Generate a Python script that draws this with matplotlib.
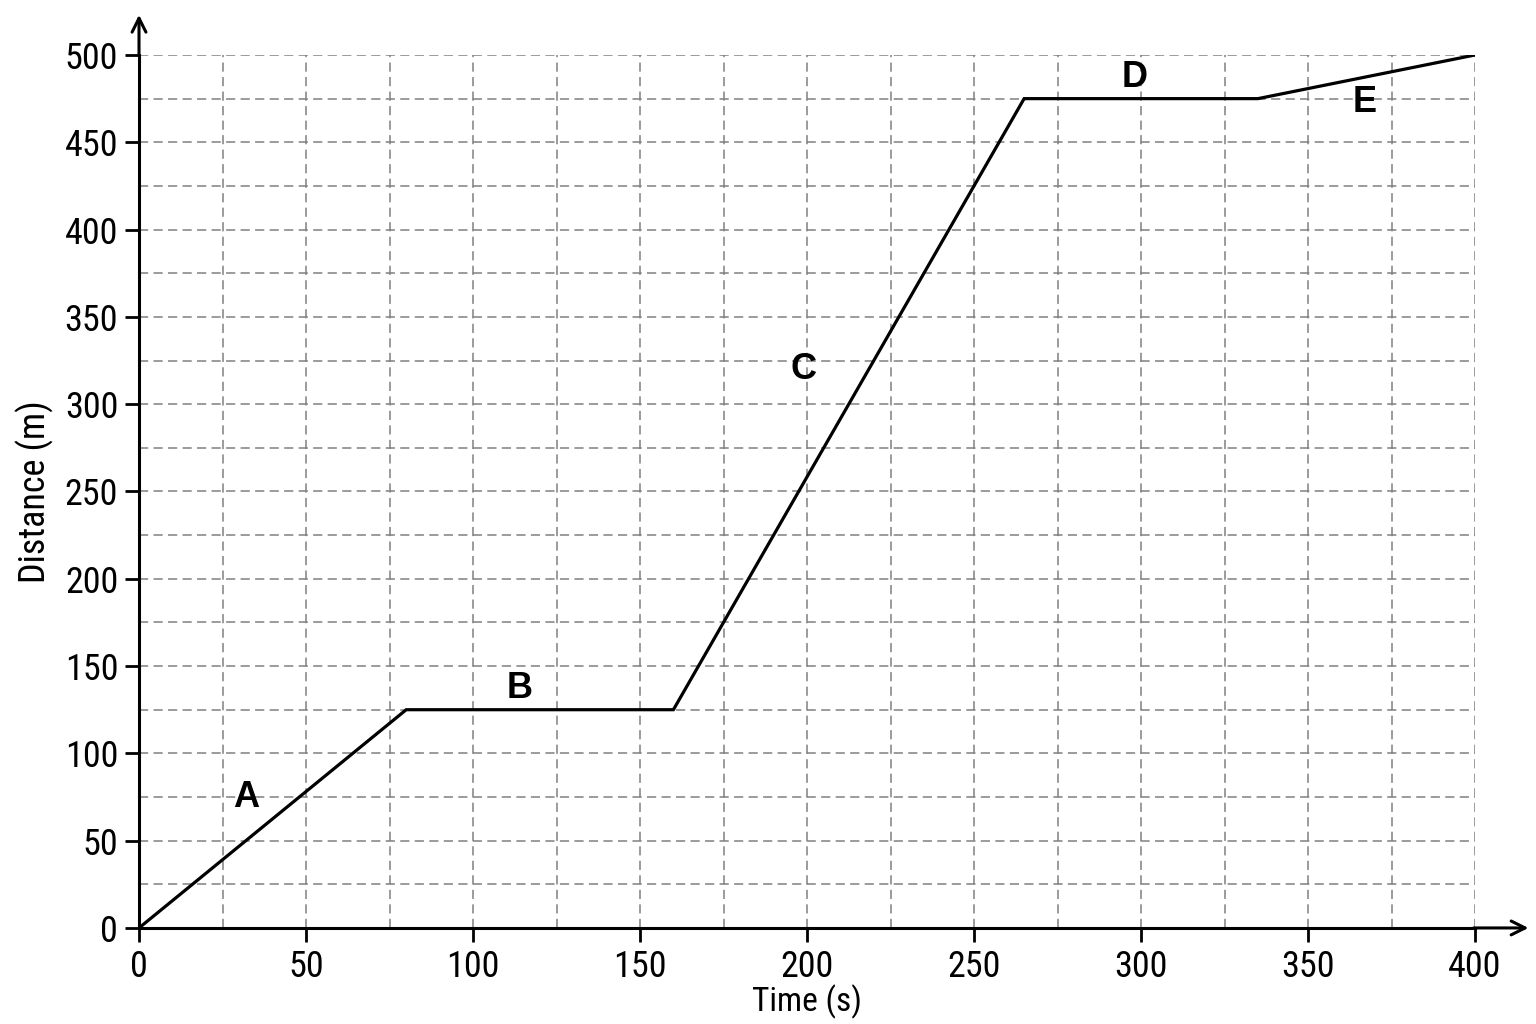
import matplotlib.pyplot as plt
import numpy as np
from matplotlib import font_manager

# distance-time graph, points joining segments A..E
time_s = [0, 80, 160, 265, 335, 400]
distance_m = [0, 125, 125, 475, 475, 500]

seg_labels = ['A', 'B', 'C', 'D', 'E']
label_x = [32, 114, 199, 298, 367]
label_y = [75, 137, 320, 487, 473]

xticks = np.arange(0, 401, 50)
yticks = np.arange(0, 501, 50)

names = set(f.name for f in font_manager.fontManager.ttflist)
narrow = [n for n in ['Roboto Condensed', 'Liberation Sans Narrow', 'Liberation Sans'] if n in names]
plt.rcParams['font.family'] = narrow + ['DejaVu Sans']
bold_fam = [n for n in ['Liberation Sans', 'Roboto'] if n in names] + ['DejaVu Sans']

fig = plt.figure(figsize=(15.36, 10.24), dpi=100)
ax = fig.add_axes([0.0905, 0.0938, 0.8698, 0.8525])

ax.set_xlim(0, 400)
ax.set_ylim(0, 500)
ax.set_xticks(xticks)
ax.set_yticks(yticks)
ax.set_xticks(np.arange(0, 401, 25), minor=True)
ax.set_yticks(np.arange(0, 501, 25), minor=True)
ax.grid(True, which='both', color='#808080', linestyle=(0, (6, 3.5)), linewidth=1.1)
ax.set_axisbelow(True)

for s in ['top', 'right']:
    ax.spines[s].set_visible(False)
for s in ['left', 'bottom']:
    ax.spines[s].set_linewidth(2.2)

ax.tick_params(which='major', direction='out', length=10, width=2, labelsize=26, pad=5)
ax.tick_params(which='minor', length=0)

# arrow heads on the axes
ax.annotate('', xy=(1.04, 0), xytext=(0.999, 0), xycoords='axes fraction',
            arrowprops=dict(arrowstyle='->', lw=2.2, color='black', mutation_scale=25,
                            shrinkA=0, shrinkB=0),
            annotation_clip=False)
ax.annotate('', xy=(0, 1.046), xytext=(0, 0.999), xycoords='axes fraction',
            arrowprops=dict(arrowstyle='->', lw=2.2, color='black', mutation_scale=25,
                            shrinkA=0, shrinkB=0),
            annotation_clip=False)

ax.plot(time_s, distance_m, color='black', linewidth=2.3, solid_joinstyle='miter')

for i in range(len(seg_labels)):
    ax.text(label_x[i], label_y[i], seg_labels[i], fontsize=26, fontweight='bold',
            family=bold_fam, ha='center', va='center')

ax.set_xlabel('Time (s)', fontsize=24, labelpad=0)
ax.set_ylabel('Distance (m)', fontsize=26, labelpad=8)

fig.savefig('out.png', dpi=100, facecolor='white')
